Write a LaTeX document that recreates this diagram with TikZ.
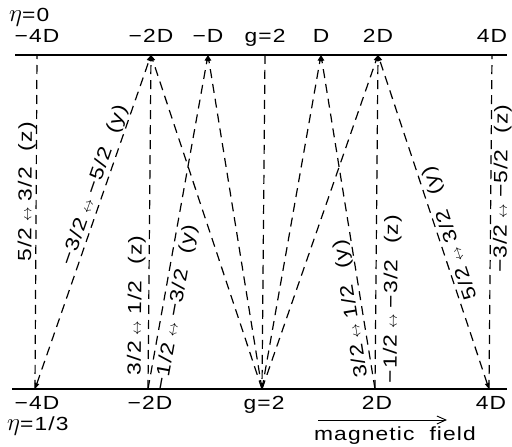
\documentclass[tikz,border=0pt]{standalone}
\usepackage{fontspec}
\setmainfont{Liberation Sans}[FakeStretch=1.2, LetterSpace=6]
\usetikzlibrary{positioning,arrows.meta,calc}
\newcommand{\trarr}{\hspace{6pt}{\fontsize{14}{14}\selectfont$\leftrightarrow$}\hspace{6pt}}
\newcommand{\pgap}{\hspace{16pt}}
\newcommand{\etasym}{{\fontsize{25}{25}\selectfont$\eta$}}

\begin{document}
\begin{tikzpicture}[x=1pt, y=1pt,
  every node/.style={font=\fontsize{19}{23}\selectfont, inner sep=0pt},
  axis/.style={line width=1.8pt},
  trans/.style={line width=1.2pt, dash pattern=on 9pt off 6pt},
  tipend/.style={-{Triangle[length=6pt,width=4.5pt]}},
  tipboth/.style={{Triangle[length=6pt,width=4.5pt]}-{Triangle[length=6pt,width=4.5pt]}},
  lbl/.style={sloped, allow upside down},
  axlbl/.style={anchor=base}
]
  \useasboundingbox (0,0) rectangle (512,447);

  % the two field axes
  \coordinate (tl) at (15,392);  \coordinate (tr) at (507,392);
  \coordinate (bl) at (12,58);   \coordinate (br) at (507,58);
  \draw[axis] (tl) -- (tr);
  \draw[axis] (bl) -- (br);

  \foreach \n/\x in {m4/37, m2/151, m1/208, g/265, p1/321, p2/378, p4/492}
    \coordinate (t\n) at (\x,392);
  \foreach \n/\x in {m4/35, m2/148, g/262, p2/375, p4/489}
    \coordinate (b\n) at (\x,58);

  % axis labels
  \foreach \n/\t in {m4/−4D, m2/−2D, m1/−D, g/g=2, p1/D, p2/2D, p4/4D}
    \node[axlbl] (lt\n) at ($(t\n)+(0,12)$) {\t};
  \foreach \n/\t in {m4/−4D, m2/−2D, g/g=2, p2/2D, p4/4D}
    \node[axlbl] (lb\n) at ($(b\n)+(2,-21)$) {\t};
  \node[anchor=base west] (eta0) at (9,425) {\etasym=0};
  \node[anchor=base west] (eta1) at (7,16) {\etasym=1/3};

  % transitions
  \draw[trans] (bm4) -- node[lbl, above, pos=0.59] {5/2\trarr3/2\pgap(z)} (tm4);
  \draw[trans, tipboth] (bm4) -- node[lbl, above, pos=0.6, inner sep=1pt] {−3/2\trarr−5/2\pgap(y)} (tm2);
  \draw[trans] (bm2) -- node[lbl, above, pos=0.25, inner sep=3pt] {3/2\trarr1/2\pgap(z)} (tm2);
  \draw[trans, tipend] (bm2) -- node[lbl, below, pos=0.25, inner sep=4pt] {−1/2\trarr−3/2\pgap(y)} (tm1);
  \draw[trans, tipend] (bp2) -- node[lbl, above, pos=0.245, inner sep=1pt] {3/2\trarr1/2\pgap(y)} (tp1);
  \draw[trans] (bp2) -- node[lbl, below, pos=0.27, inner sep=7pt] {−1/2\trarr−3/2\pgap(z)} (tp2);
  \draw[trans, tipboth] (bp4) -- node[lbl, below, pos=0.455, inner sep=3pt] {5/2\trarr3/2\pgap(y)} (tp2);
  \draw[trans] (bp4) -- node[lbl, below, pos=0.6, inner sep=2pt] {−3/2\trarr−5/2\pgap(z)} (tp4);

  % fan into g=2
  \foreach \n in {m2,m1,p1,p2} \draw[trans, tipend] (bg) -- (t\n);
  \draw[trans, tipend] (tg) -- (bg);

  % field direction
  \coordinate (mfa) at (318,27);
  \coordinate (mfb) at (447,27);
  \draw[line width=0.9pt, -{Straight Barb[length=9pt,width=8pt]}] (mfa) -- (mfb);
  \node[anchor=base] (mf) at (395,6) {magnetic\ \ field};
\end{tikzpicture}
\end{document}
